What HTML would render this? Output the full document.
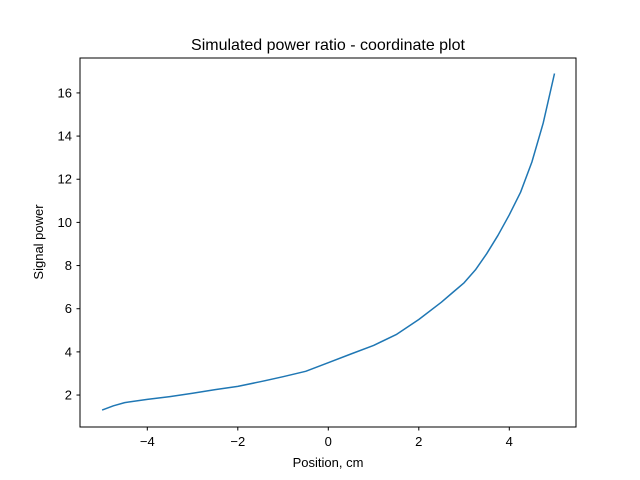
<!DOCTYPE html>
<html><head><meta charset="utf-8"><style>
body{margin:0;background:#fff}
svg{display:block;font-family:"Liberation Sans","DejaVu Sans",sans-serif}
</style></head><body>
<svg id="chart" width="640" height="480">
<rect x="0" y="0" width="640" height="480" fill="#fff"/>
<text x="328" y="50" text-anchor="middle" font-size="16">Simulated power ratio - coordinate plot</text>
<g id="xt"></g><g id="yt"></g>
<path id="line" fill="none" stroke="#1f77b4" stroke-width="1.5" stroke-linejoin="round"/>
<rect x="80" y="58" width="496" height="369" fill="none" stroke="#000" stroke-width="1"/>
<text x="328" y="467" text-anchor="middle" font-size="13">Position, cm</text>
<text transform="translate(43,242) rotate(-90)" text-anchor="middle" font-size="13">Signal power</text>
</svg>
<script>
const xs=[-5,-4.75,-4.5,-4,-3.5,-3,-2.5,-2,-1.5,-1,-0.5,0,0.5,1,1.5,2,2.5,2.75,3,3.25,3.5,3.75,4,4.25,4.5,4.75,5];
const ys=[1.3,1.5,1.65,1.8,1.93,2.08,2.25,2.4,2.62,2.85,3.1,3.5,3.9,4.3,4.8,5.5,6.3,6.75,7.2,7.8,8.55,9.4,10.35,11.4,12.8,14.6,16.9];
const xTicks=[-4,-2,0,2,4];
const yTicks=[2,4,6,8,10,12,14,16];
const X=v=>328.3+v*45.25, Y=v=>438.2-v*21.58;
const ns="http://www.w3.org/2000/svg";
const line=document.getElementById('line');
line.setAttribute('d',xs.map((x,i)=>(i?'L':'M')+X(x).toFixed(1)+','+Y(ys[i]).toFixed(1)).join(''));
const xt=document.getElementById('xt'),yt=document.getElementById('yt');
xTicks.forEach(t=>{
 const l=document.createElementNS(ns,'line');
 l.setAttribute('x1',X(t));l.setAttribute('x2',X(t));l.setAttribute('y1',427);l.setAttribute('y2',430.5);l.setAttribute('stroke','#000');
 
 
 xt.appendChild(l);
 const s=document.createElementNS(ns,'text');
 s.setAttribute('x',X(t));s.setAttribute('y',446);s.setAttribute('text-anchor','middle');s.setAttribute('font-size','13');
 s.textContent=(t<0?'\u2212'+(-t):t);
 
 
 xt.appendChild(s);
});
yTicks.forEach(t=>{
 const l=document.createElementNS(ns,'line');
 l.setAttribute('x1',76.5);l.setAttribute('x2',80);l.setAttribute('y1',Y(t));l.setAttribute('y2',Y(t));l.setAttribute('stroke','#000');
 
 
 yt.appendChild(l);
 const s=document.createElementNS(ns,'text');
 s.setAttribute('x',72);s.setAttribute('y',Y(t)+4.5);s.setAttribute('text-anchor','end');s.setAttribute('font-size','13');
 s.textContent=t;
 
 
 yt.appendChild(s);
});
</script>
</body></html>
